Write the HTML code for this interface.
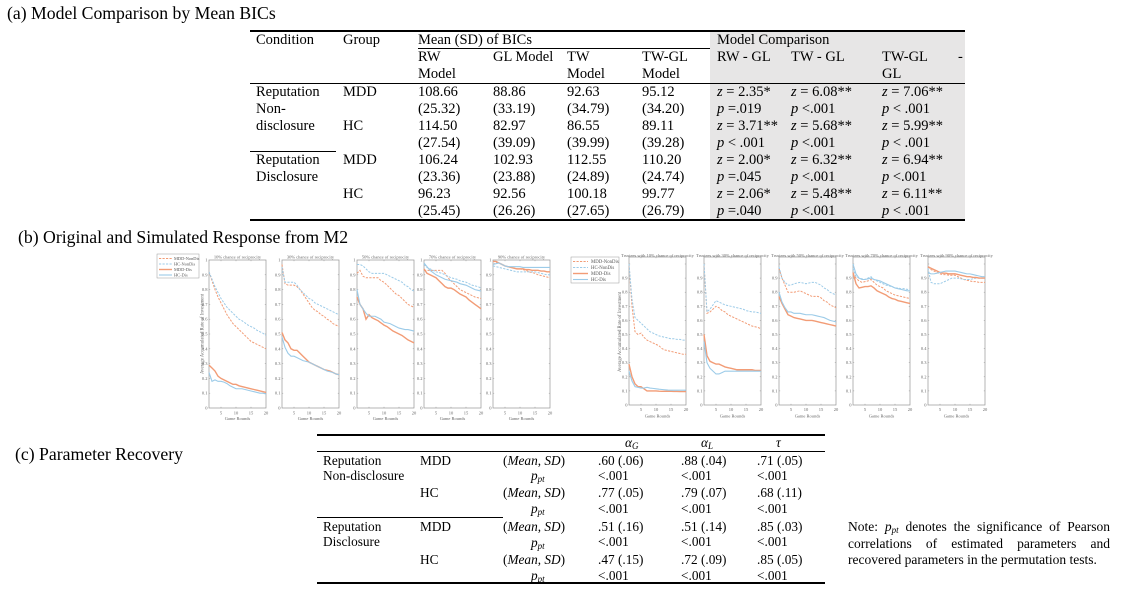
<!DOCTYPE html>
<html><head><meta charset="utf-8">
<style>
html,body{margin:0;padding:0;background:#fff}
body{width:1130px;height:589px;position:relative;overflow:hidden;font-family:"Liberation Serif","Times New Roman",serif;color:#000}
.ttl{position:absolute;white-space:nowrap;font-size:17.7px;line-height:20px}
.ra{position:absolute;left:0;height:17px;line-height:17px;font-size:14.5px}
.ra>span{position:absolute;top:0;white-space:nowrap}
.rc{position:absolute;left:0;height:16px;line-height:16px;font-size:13.3px}
.rc>span{position:absolute;top:0;white-space:nowrap}
.ln{position:absolute;background:#000}
i{font-style:italic}
sub{font-size:9px;vertical-align:-2px;line-height:0;font-style:italic}
.note{position:absolute;left:848px;width:262px;font-size:13.5px;line-height:16.5px}
.note div{text-align:justify;text-align-last:justify;white-space:nowrap}
.note div.last{text-align-last:left}
svg{position:absolute;left:0;top:0}
.od{fill:none;stroke:#f29c76;stroke-width:1;stroke-dasharray:2.2 1.3;vector-effect:non-scaling-stroke}
.bd{fill:none;stroke:#9ccbe8;stroke-width:1;stroke-dasharray:2.2 1.3;vector-effect:non-scaling-stroke}
.os{fill:none;stroke:#f29c76;stroke-width:1.4;vector-effect:non-scaling-stroke}
.bs{fill:none;stroke:#9ccbe8;stroke-width:1.1;vector-effect:non-scaling-stroke}
.tk{font-size:4.5px;fill:#666;font-family:"Liberation Serif",serif}
.lg{font-size:4.4px;fill:#555;font-family:"Liberation Serif",serif}
</style></head>
<body>

<div class="ttl" style="left:7px;top:3px">(a) Model Comparison by Mean BICs</div>
<div class="ttl" style="left:18px;top:227px">(b) Original and Simulated Response from M2</div>
<div class="ttl" style="left:15px;top:444px">(c) Parameter Recovery</div>

<!-- Table (a) -->
<div style="position:absolute;left:710px;top:31px;width:255px;height:189px;background:#e7e6e6"></div>
<div class="ln" style="left:250px;top:30px;width:715px;height:1.5px"></div>
<div class="ln" style="left:418px;top:48px;width:292px;height:1px"></div>
<div class="ln" style="left:250px;top:82.5px;width:715px;height:1px"></div>
<div class="ln" style="left:250px;top:151px;width:86px;height:1px"></div>
<div class="ln" style="left:250px;top:219px;width:715px;height:1.5px"></div>

<div class="ra" style="top:31.5px"><span style="left:256px">Condition</span><span style="left:343px">Group</span><span style="left:418px">Mean (SD) of BICs</span><span style="left:717px">Model Comparison</span></div>
<div class="ra" style="top:48.5px"><span style="left:418px">RW</span><span style="left:493px">GL Model</span><span style="left:567px">TW</span><span style="left:642px">TW-GL</span><span style="left:717px">RW - GL</span><span style="left:791px">TW - GL</span><span style="left:882px">TW-GL</span><span style="left:958px">-</span></div>
<div class="ra" style="top:65.5px"><span style="left:418px">Model</span><span style="left:567px">Model</span><span style="left:642px">Model</span><span style="left:882px">GL</span></div>

<div class="ra" style="top:83.5px"><span style="left:256px">Reputation</span><span style="left:343px">MDD</span><span style="left:418px">108.66</span><span style="left:493px">88.86</span><span style="left:567px">92.63</span><span style="left:642px">95.12</span><span style="left:717px"><i>z</i> = 2.35*</span><span style="left:791px"><i>z</i> = 6.08**</span><span style="left:882px"><i>z</i> = 7.06**</span></div>
<div class="ra" style="top:100.5px"><span style="left:256px">Non-</span><span style="left:418px">(25.32)</span><span style="left:493px">(33.19)</span><span style="left:567px">(34.79)</span><span style="left:642px">(34.20)</span><span style="left:717px"><i>p</i> =.019</span><span style="left:791px"><i>p</i> &lt;.001</span><span style="left:882px"><i>p</i> &lt; .001</span></div>
<div class="ra" style="top:117.5px"><span style="left:256px">disclosure</span><span style="left:343px">HC</span><span style="left:418px">114.50</span><span style="left:493px">82.97</span><span style="left:567px">86.55</span><span style="left:642px">89.11</span><span style="left:717px"><i>z</i> = 3.71**</span><span style="left:791px"><i>z</i> = 5.68**</span><span style="left:882px"><i>z</i> = 5.99**</span></div>
<div class="ra" style="top:134.5px"><span style="left:418px">(27.54)</span><span style="left:493px">(39.09)</span><span style="left:567px">(39.99)</span><span style="left:642px">(39.28)</span><span style="left:717px"><i>p</i> &lt; .001</span><span style="left:791px"><i>p</i> &lt;.001</span><span style="left:882px"><i>p</i> &lt; .001</span></div>
<div class="ra" style="top:151.5px"><span style="left:256px">Reputation</span><span style="left:343px">MDD</span><span style="left:418px">106.24</span><span style="left:493px">102.93</span><span style="left:567px">112.55</span><span style="left:642px">110.20</span><span style="left:717px"><i>z</i> = 2.00*</span><span style="left:791px"><i>z</i> = 6.32**</span><span style="left:882px"><i>z</i> = 6.94**</span></div>
<div class="ra" style="top:168.5px"><span style="left:256px">Disclosure</span><span style="left:418px">(23.36)</span><span style="left:493px">(23.88)</span><span style="left:567px">(24.89)</span><span style="left:642px">(24.74)</span><span style="left:717px"><i>p</i> =.045</span><span style="left:791px"><i>p</i> &lt;.001</span><span style="left:882px"><i>p</i> &lt;.001</span></div>
<div class="ra" style="top:185.5px"><span style="left:343px">HC</span><span style="left:418px">96.23</span><span style="left:493px">92.56</span><span style="left:567px">100.18</span><span style="left:642px">99.77</span><span style="left:717px"><i>z</i> = 2.06*</span><span style="left:791px"><i>z</i> = 5.48**</span><span style="left:882px"><i>z</i> = 6.11**</span></div>
<div class="ra" style="top:202.5px"><span style="left:418px">(25.45)</span><span style="left:493px">(26.26)</span><span style="left:567px">(27.65)</span><span style="left:642px">(26.79)</span><span style="left:717px"><i>p</i> =.040</span><span style="left:791px"><i>p</i> &lt;.001</span><span style="left:882px"><i>p</i> &lt; .001</span></div>

<!-- Table (c) -->
<div class="ln" style="left:317px;top:434px;width:508px;height:1.5px"></div>
<div class="ln" style="left:317px;top:451px;width:508px;height:1px"></div>
<div class="ln" style="left:317px;top:517px;width:186px;height:1px"></div>
<div class="ln" style="left:317px;top:582px;width:508px;height:1.5px"></div>

<div class="rc" style="top:435px"><span style="left:625px"><i>α</i><sub>G</sub></span><span style="left:701px"><i>α</i><sub>L</sub></span><span style="left:776px"><i>τ</i></span></div>
<div class="rc" style="top:453px"><span style="left:323px">Reputation</span><span style="left:420px">MDD</span><span style="left:503px">(<i>Mean</i>, <i>SD</i>)</span><span style="left:598px">.60 (.06)</span><span style="left:681px">.88 (.04)</span><span style="left:757px">.71 (.05)</span></div>
<div class="rc" style="top:468px"><span style="left:323px">Non-disclosure</span><span style="left:598px">&lt;.001</span><span style="left:681px">&lt;.001</span><span style="left:757px">&lt;.001</span></div>
<div class="rc" style="top:468px"><span style="left:531px"><i>p</i><sub>pt</sub></span></div>
<div class="rc" style="top:485px"><span style="left:420px">HC</span><span style="left:503px">(<i>Mean</i>, <i>SD</i>)</span><span style="left:598px">.77 (.05)</span><span style="left:681px">.79 (.07)</span><span style="left:757px">.68 (.11)</span></div>
<div class="rc" style="top:501px"><span style="left:598px">&lt;.001</span><span style="left:681px">&lt;.001</span><span style="left:757px">&lt;.001</span></div>
<div class="rc" style="top:501px"><span style="left:531px"><i>p</i><sub>pt</sub></span></div>
<div class="rc" style="top:519px"><span style="left:323px">Reputation</span><span style="left:420px">MDD</span><span style="left:503px">(<i>Mean</i>, <i>SD</i>)</span><span style="left:598px">.51 (.16)</span><span style="left:681px">.51 (.14)</span><span style="left:757px">.85 (.03)</span></div>
<div class="rc" style="top:534px"><span style="left:323px">Disclosure</span><span style="left:598px">&lt;.001</span><span style="left:681px">&lt;.001</span><span style="left:757px">&lt;.001</span></div>
<div class="rc" style="top:535px"><span style="left:531px"><i>p</i><sub>pt</sub></span></div>
<div class="rc" style="top:552px"><span style="left:420px">HC</span><span style="left:503px">(<i>Mean</i>, <i>SD</i>)</span><span style="left:598px">.47 (.15)</span><span style="left:681px">.72 (.09)</span><span style="left:757px">.85 (.05)</span></div>
<div class="rc" style="top:568px"><span style="left:598px">&lt;.001</span><span style="left:681px">&lt;.001</span><span style="left:757px">&lt;.001</span></div>
<div class="rc" style="top:568px"><span style="left:531px"><i>p</i><sub>pt</sub></span></div>

<div class="note" style="top:519px">
<div>Note: <i>p</i><sub>pt</sub> denotes the significance of Pearson</div>
<div>correlations of estimated parameters and</div>
<div class="last">recovered parameters in the permutation tests.</div>
</div>

<!-- Charts (b) -->
<svg width="1130" height="589" viewBox="0 0 1130 589" xmlns="http://www.w3.org/2000/svg">
<defs>
<g id="axL">
<rect x="0" y="0" width="57" height="148" fill="none" stroke="#959595" stroke-width="0.7"/>
<path d="M0,133.2h1.2M0,118.4h1.2M0,103.6h1.2M0,88.8h1.2M0,74h1.2M0,59.2h1.2M0,44.4h1.2M0,29.6h1.2M0,14.8h1.2M57,133.2h-1.2M57,118.4h-1.2M57,103.6h-1.2M57,88.8h-1.2M57,74h-1.2M57,59.2h-1.2M57,44.4h-1.2M57,29.6h-1.2M57,14.8h-1.2M12,148v-1.2M27,148v-1.2M42,148v-1.2M12,0v1.2M27,0v1.2M42,0v1.2" stroke="#959595" stroke-width="0.5" fill="none"/>
</g>
<g id="axR">
<rect x="0" y="0" width="57" height="148" fill="none" stroke="#959595" stroke-width="0.7"/>
<path d="M0,133.9h1.2M0,119.8h1.2M0,105.7h1.2M0,91.6h1.2M0,77.5h1.2M0,63.4h1.2M0,49.3h1.2M0,35.2h1.2M0,21.1h1.2M0,7h1.2M57,133.9h-1.2M57,119.8h-1.2M57,105.7h-1.2M57,91.6h-1.2M57,77.5h-1.2M57,63.4h-1.2M57,49.3h-1.2M57,35.2h-1.2M57,21.1h-1.2M57,7h-1.2M12,148v-1.2M27,148v-1.2M42,148v-1.2M12,0v1.2M27,0v1.2M42,0v1.2" stroke="#959595" stroke-width="0.5" fill="none"/>
</g>
</defs>

<use href="#axL" x="209" y="260"/>
<use href="#axL" x="282" y="260"/>
<use href="#axL" x="357" y="260"/>
<use href="#axL" x="424" y="260"/>
<use href="#axL" x="493" y="260"/>
<use href="#axR" x="629" y="257"/>
<use href="#axR" x="704" y="257"/>
<use href="#axR" x="779" y="257"/>
<use href="#axR" x="853" y="257"/>
<use href="#axR" x="928" y="257"/>

<!-- L1 -->
<g transform="translate(206,408) scale(3,-148)">
<polyline class="od" points="1,.92 2,.86 3,.80 4,.75 5,.71 6,.67 7,.63 8,.60 9,.57 10,.55 11,.53 12,.51 13,.49 14,.47 15,.45 16,.44 17,.43 18,.42 19,.41 20,.40"/>
<polyline class="bd" points="1,.92 2,.87 3,.82 4,.78 5,.74 6,.71 7,.68 8,.66 9,.64 10,.62 11,.60 12,.59 13,.575 14,.56 15,.55 16,.54 17,.525 18,.515 19,.505 20,.49"/>
<polyline class="os" points="1,.29 2,.27 3,.25 4,.215 5,.20 6,.19 7,.18 8,.17 9,.16 10,.16 11,.15 12,.145 13,.14 14,.135 15,.13 16,.125 17,.12 18,.115 19,.11 20,.105"/>
<polyline class="bs" points="1,.24 2,.18 3,.19 4,.18 5,.18 6,.175 7,.165 8,.15 9,.14 10,.13 11,.13 12,.13 13,.125 14,.12 15,.115 16,.11 17,.105 18,.1 19,.1 20,.095"/>
</g>
<!-- L2 -->
<g transform="translate(279,408) scale(3,-148)">
<polyline class="od" points="1,.97 2,.84 3,.83 4,.83 5,.83 6,.82 7,.80 8,.77 9,.74 10,.71 11,.68 12,.66 13,.65 14,.63 15,.62 16,.60 17,.59 18,.57 19,.56 20,.55"/>
<polyline class="bd" points="1,.95 2,.85 3,.85 4,.85 5,.85 6,.83 7,.80 8,.78 9,.76 10,.74 11,.73 12,.71 13,.70 14,.69 15,.68 16,.67 17,.66 18,.65 19,.64 20,.63"/>
<polyline class="os" points="1,.51 2,.46 3,.44 4,.40 5,.39 6,.39 7,.37 8,.35 9,.33 10,.31 11,.30 12,.29 13,.28 14,.27 15,.26 16,.255 17,.25 18,.24 19,.23 20,.225"/>
<polyline class="bs" points="1,.48 2,.41 3,.37 4,.35 5,.35 6,.34 7,.33 8,.32 9,.315 10,.31 11,.30 12,.29 13,.28 14,.27 15,.26 16,.25 17,.245 18,.24 19,.23 20,.225"/>
</g>
<!-- L3 -->
<g transform="translate(354,408) scale(3,-148)">
<polyline class="od" points="1,.91 2,.93 3,.89 4,.88 5,.88 6,.88 7,.88 8,.88 9,.86 10,.85 11,.83 12,.81 13,.79 14,.77 15,.76 16,.74 17,.72 18,.70 19,.69 20,.68"/>
<polyline class="bd" points="1,.97 2,.97 3,.96 4,.94 5,.92 6,.91 7,.91 8,.91 9,.91 10,.91 11,.90 12,.89 13,.88 14,.87 15,.86 16,.85 17,.83 18,.82 19,.80 20,.79"/>
<polyline class="os" points="1,.75 2,.70 3,.67 4,.60 5,.63 6,.61 7,.60 8,.59 9,.575 10,.56 11,.55 12,.535 13,.52 14,.51 15,.50 16,.49 17,.475 18,.46 19,.45 20,.44"/>
<polyline class="bs" points="1,.80 2,.70 3,.67 4,.64 5,.62 6,.62 7,.62 8,.61 9,.60 10,.58 11,.575 12,.57 13,.56 14,.55 15,.54 16,.535 17,.53 18,.53 19,.525 20,.52"/>
</g>
<!-- L4 -->
<g transform="translate(421,408) scale(3,-148)">
<polyline class="od" points="1,.93 2,.93 3,.93 4,.93 5,.93 6,.93 7,.93 8,.91 9,.88 10,.86 11,.84 12,.82 13,.80 14,.79 15,.78 16,.77 17,.76 18,.75 19,.745 20,.74"/>
<polyline class="bd" points="1,.97 2,.95 3,.94 4,.93 5,.92 6,.915 7,.91 8,.90 9,.89 10,.88 11,.875 12,.87 13,.86 14,.855 15,.85 16,.84 17,.83 18,.825 19,.82 20,.81"/>
<polyline class="os" points="1,.94 2,.91 3,.90 4,.89 5,.88 6,.86 7,.84 8,.82 9,.81 10,.81 11,.80 12,.785 13,.77 14,.76 15,.75 16,.73 17,.715 18,.70 19,.685 20,.67"/>
<polyline class="bs" points="1,.98 2,.955 3,.93 4,.915 5,.90 6,.89 7,.88 8,.87 9,.865 10,.86 11,.855 12,.85 13,.84 14,.835 15,.83 16,.82 17,.81 18,.80 19,.795 20,.79"/>
</g>
<!-- L5 -->
<g transform="translate(490,408) scale(3,-148)">
<polyline class="od" points="1,.97 2,.98 3,.98 4,.97 5,.96 6,.955 7,.95 8,.945 9,.94 10,.94 11,.935 12,.93 13,.92 14,.915 15,.91 16,.90 17,.895 18,.89 19,.885 20,.88"/>
<polyline class="bd" points="1,.96 2,.955 3,.95 4,.945 5,.94 6,.935 7,.93 8,.925 9,.92 10,.92 11,.92 12,.92 13,.92 14,.92 15,.92 16,.915 17,.91 18,.905 19,.90 20,.90"/>
<polyline class="os" points="1,.99 2,.99 3,.98 4,.97 5,.96 6,.955 7,.95 8,.945 9,.94 10,.94 11,.94 12,.935 13,.935 14,.93 15,.93 16,.93 17,.925 18,.925 19,.92 20,.92"/>
<polyline class="bs" points="1,.97 2,.975 3,.98 4,.97 5,.96 6,.955 7,.955 8,.955 9,.955 10,.955 11,.95 12,.95 13,.95 14,.95 15,.95 16,.95 17,.95 18,.95 19,.95 20,.95"/>
</g>

<!-- R1 -->
<g transform="translate(626,405) scale(3,-141)">
<polyline class="od" points="1,1.0 2,.70 3,.52 4,.50 5,.51 6,.48 7,.46 8,.45 9,.44 10,.43 11,.42 12,.40 13,.39 14,.385 15,.38 16,.375 17,.37 18,.365 19,.36 20,.36"/>
<polyline class="bd" points="1,1.0 2,.75 3,.62 4,.60 5,.58 6,.56 7,.54 8,.52 9,.51 10,.50 11,.49 12,.485 13,.48 14,.475 15,.47 16,.47 17,.465 18,.465 19,.46 20,.46"/>
<polyline class="os" points="1,.29 2,.20 3,.15 4,.13 5,.13 6,.115 7,.10 8,.10 9,.10 10,.10 11,.098 12,.097 13,.097 14,.097 15,.097 16,.096 17,.096 18,.095 19,.095 20,.095"/>
<polyline class="bs" points="1,.24 2,.17 3,.13 4,.125 5,.12 6,.12 7,.125 8,.12 9,.118 10,.115 11,.112 12,.11 13,.108 14,.106 15,.105 16,.105 17,.105 18,.105 19,.105 20,.105"/>
</g>
<!-- R2 -->
<g transform="translate(701,405) scale(3,-141)">
<polyline class="od" points="1,1.0 2,.65 3,.66 4,.68 5,.70 6,.69 7,.67 8,.66 9,.64 10,.63 11,.62 12,.61 13,.60 14,.59 15,.58 16,.57 17,.56 18,.555 19,.55 20,.54"/>
<polyline class="bd" points="1,1.0 2,.66 3,.68 4,.71 5,.74 6,.73 7,.72 8,.71 9,.705 10,.70 11,.695 12,.69 13,.685 14,.68 15,.67 16,.665 17,.66 18,.66 19,.655 20,.65"/>
<polyline class="os" points="1,.50 2,.35 3,.31 4,.30 5,.29 6,.29 7,.28 8,.27 9,.265 10,.26 11,.255 12,.25 13,.25 14,.25 15,.25 16,.25 17,.25 18,.245 19,.245 20,.245"/>
<polyline class="bs" points="1,.45 2,.30 3,.26 4,.24 5,.22 6,.22 7,.23 8,.24 9,.24 10,.24 11,.24 12,.24 13,.24 14,.24 15,.24 16,.24 17,.24 18,.24 19,.24 20,.24"/>
</g>
<!-- R3 -->
<g transform="translate(776,405) scale(3,-141)">
<polyline class="od" points="1,.97 2,.90 3,.85 4,.80 5,.80 6,.80 7,.805 8,.81 9,.80 10,.79 11,.78 12,.77 13,.77 14,.77 15,.76 16,.74 17,.73 18,.71 19,.70 20,.69"/>
<polyline class="bd" points="1,.98 2,.90 3,.87 4,.85 5,.85 6,.86 7,.865 8,.87 9,.865 10,.86 11,.865 12,.87 13,.87 14,.86 15,.85 16,.83 17,.82 18,.80 19,.79 20,.78"/>
<polyline class="os" points="1,.77 2,.72 3,.68 4,.64 5,.63 6,.62 7,.615 8,.61 9,.605 10,.60 11,.60 12,.60 13,.595 14,.59 15,.585 16,.58 17,.575 18,.57 19,.565 20,.56"/>
<polyline class="bs" points="1,.80 2,.73 3,.69 4,.66 5,.66 6,.65 7,.65 8,.65 9,.645 10,.64 11,.64 12,.64 13,.635 14,.63 15,.625 16,.62 17,.61 18,.60 19,.595 20,.59"/>
</g>
<!-- R4 -->
<g transform="translate(850,405) scale(3,-141)">
<polyline class="od" points="1,.93 2,.90 3,.88 4,.87 5,.875 6,.88 7,.89 8,.87 9,.85 10,.84 11,.83 12,.81 13,.80 14,.79 15,.78 16,.775 17,.77 18,.765 19,.76 20,.755"/>
<polyline class="bd" points="1,.97 2,.91 3,.90 4,.895 5,.89 6,.90 7,.91 8,.89 9,.88 10,.87 11,.86 12,.85 13,.845 14,.84 15,.83 16,.83 17,.825 18,.825 19,.82 20,.82"/>
<polyline class="os" points="1,.94 2,.86 3,.83 4,.835 5,.84 6,.84 7,.845 8,.83 9,.81 10,.80 11,.79 12,.78 13,.765 14,.755 15,.75 16,.74 17,.735 18,.73 19,.725 20,.72"/>
<polyline class="bs" points="1,1.0 2,.93 3,.90 4,.89 5,.89 6,.895 7,.90 8,.89 9,.885 10,.88 11,.87 12,.86 13,.85 14,.84 15,.83 16,.825 17,.82 18,.815 19,.81 20,.81"/>
</g>
<!-- R5 -->
<g transform="translate(925,405) scale(3,-141)">
<polyline class="od" points="1,.98 2,.96 3,.95 4,.94 5,.93 6,.925 7,.925 8,.92 9,.92 10,.92 11,.91 12,.90 13,.89 14,.885 15,.88 16,.875 17,.875 18,.87 19,.87 20,.87"/>
<polyline class="bd" points="1,.97 2,.87 3,.86 4,.86 5,.86 6,.87 7,.88 8,.89 9,.90 10,.90 11,.90 12,.895 13,.89 14,.89 15,.89 16,.895 17,.90 18,.90 19,.90 20,.90"/>
<polyline class="os" points="1,.98 2,.97 3,.96 4,.95 5,.94 6,.935 7,.935 8,.93 9,.93 10,.93 11,.925 12,.92 13,.915 14,.91 15,.91 16,.905 17,.905 18,.90 19,.90 20,.90"/>
<polyline class="bs" points="1,.94 2,.93 3,.93 4,.935 5,.94 6,.945 7,.95 8,.95 9,.95 10,.95 11,.945 12,.94 13,.935 14,.93 15,.93 16,.925 17,.92 18,.915 19,.91 20,.91"/>
</g>

<text class="tk" text-anchor="middle" x="237.5" y="258.5">10% chance of reciprocity</text>
<text class="tk" text-anchor="middle" x="310.5" y="258.5">30% chance of reciprocity</text>
<text class="tk" text-anchor="middle" x="385.5" y="258.5">50% chance of reciprocity</text>
<text class="tk" text-anchor="middle" x="452.5" y="258.5">70% chance of reciprocity</text>
<text class="tk" text-anchor="middle" x="521.5" y="258.5">90% chance of reciprocity</text>
<text class="tk" text-anchor="middle" x="657.5" y="257">Trustees with 10% chance of reciprocity</text>
<text class="tk" text-anchor="middle" x="732.5" y="257">Trustees with 30% chance of reciprocity</text>
<text class="tk" text-anchor="middle" x="807.5" y="257">Trustees with 50% chance of reciprocity</text>
<text class="tk" text-anchor="middle" x="881.5" y="257">Trustees with 70% chance of reciprocity</text>
<text class="tk" text-anchor="middle" x="956.5" y="257">Trustees with 90% chance of reciprocity</text>

<text class="tk" text-anchor="end"><tspan x="207.5" y="409.5">0</tspan><tspan x="207.5" y="394.7">0.1</tspan><tspan x="207.5" y="379.9">0.2</tspan><tspan x="207.5" y="365.1">0.3</tspan><tspan x="207.5" y="350.3">0.4</tspan><tspan x="207.5" y="335.5">0.5</tspan><tspan x="207.5" y="320.7">0.6</tspan><tspan x="207.5" y="305.9">0.7</tspan><tspan x="207.5" y="291.1">0.8</tspan><tspan x="207.5" y="276.3">0.9</tspan><tspan x="207.5" y="261.5">1</tspan></text>
<text class="tk" text-anchor="end"><tspan x="280.5" y="409.5">0</tspan><tspan x="280.5" y="394.7">0.1</tspan><tspan x="280.5" y="379.9">0.2</tspan><tspan x="280.5" y="365.1">0.3</tspan><tspan x="280.5" y="350.3">0.4</tspan><tspan x="280.5" y="335.5">0.5</tspan><tspan x="280.5" y="320.7">0.6</tspan><tspan x="280.5" y="305.9">0.7</tspan><tspan x="280.5" y="291.1">0.8</tspan><tspan x="280.5" y="276.3">0.9</tspan><tspan x="280.5" y="261.5">1</tspan></text>
<text class="tk" text-anchor="end"><tspan x="355.5" y="409.5">0</tspan><tspan x="355.5" y="394.7">0.1</tspan><tspan x="355.5" y="379.9">0.2</tspan><tspan x="355.5" y="365.1">0.3</tspan><tspan x="355.5" y="350.3">0.4</tspan><tspan x="355.5" y="335.5">0.5</tspan><tspan x="355.5" y="320.7">0.6</tspan><tspan x="355.5" y="305.9">0.7</tspan><tspan x="355.5" y="291.1">0.8</tspan><tspan x="355.5" y="276.3">0.9</tspan><tspan x="355.5" y="261.5">1</tspan></text>
<text class="tk" text-anchor="end"><tspan x="422.5" y="409.5">0</tspan><tspan x="422.5" y="394.7">0.1</tspan><tspan x="422.5" y="379.9">0.2</tspan><tspan x="422.5" y="365.1">0.3</tspan><tspan x="422.5" y="350.3">0.4</tspan><tspan x="422.5" y="335.5">0.5</tspan><tspan x="422.5" y="320.7">0.6</tspan><tspan x="422.5" y="305.9">0.7</tspan><tspan x="422.5" y="291.1">0.8</tspan><tspan x="422.5" y="276.3">0.9</tspan><tspan x="422.5" y="261.5">1</tspan></text>
<text class="tk" text-anchor="end"><tspan x="491.5" y="409.5">0</tspan><tspan x="491.5" y="394.7">0.1</tspan><tspan x="491.5" y="379.9">0.2</tspan><tspan x="491.5" y="365.1">0.3</tspan><tspan x="491.5" y="350.3">0.4</tspan><tspan x="491.5" y="335.5">0.5</tspan><tspan x="491.5" y="320.7">0.6</tspan><tspan x="491.5" y="305.9">0.7</tspan><tspan x="491.5" y="291.1">0.8</tspan><tspan x="491.5" y="276.3">0.9</tspan><tspan x="491.5" y="261.5">1</tspan></text>

<text class="tk" text-anchor="end"><tspan x="627.5" y="406.5">0</tspan><tspan x="627.5" y="392.4">0.1</tspan><tspan x="627.5" y="378.3">0.2</tspan><tspan x="627.5" y="364.2">0.3</tspan><tspan x="627.5" y="350.1">0.4</tspan><tspan x="627.5" y="336">0.5</tspan><tspan x="627.5" y="321.9">0.6</tspan><tspan x="627.5" y="307.8">0.7</tspan><tspan x="627.5" y="293.7">0.8</tspan><tspan x="627.5" y="279.6">0.9</tspan></text>
<text class="tk" text-anchor="end"><tspan x="702.5" y="406.5">0</tspan><tspan x="702.5" y="392.4">0.1</tspan><tspan x="702.5" y="378.3">0.2</tspan><tspan x="702.5" y="364.2">0.3</tspan><tspan x="702.5" y="350.1">0.4</tspan><tspan x="702.5" y="336">0.5</tspan><tspan x="702.5" y="321.9">0.6</tspan><tspan x="702.5" y="307.8">0.7</tspan><tspan x="702.5" y="293.7">0.8</tspan><tspan x="702.5" y="279.6">0.9</tspan></text>
<text class="tk" text-anchor="end"><tspan x="777.5" y="406.5">0</tspan><tspan x="777.5" y="392.4">0.1</tspan><tspan x="777.5" y="378.3">0.2</tspan><tspan x="777.5" y="364.2">0.3</tspan><tspan x="777.5" y="350.1">0.4</tspan><tspan x="777.5" y="336">0.5</tspan><tspan x="777.5" y="321.9">0.6</tspan><tspan x="777.5" y="307.8">0.7</tspan><tspan x="777.5" y="293.7">0.8</tspan><tspan x="777.5" y="279.6">0.9</tspan></text>
<text class="tk" text-anchor="end"><tspan x="851.5" y="406.5">0</tspan><tspan x="851.5" y="392.4">0.1</tspan><tspan x="851.5" y="378.3">0.2</tspan><tspan x="851.5" y="364.2">0.3</tspan><tspan x="851.5" y="350.1">0.4</tspan><tspan x="851.5" y="336">0.5</tspan><tspan x="851.5" y="321.9">0.6</tspan><tspan x="851.5" y="307.8">0.7</tspan><tspan x="851.5" y="293.7">0.8</tspan><tspan x="851.5" y="279.6">0.9</tspan></text>
<text class="tk" text-anchor="end"><tspan x="926.5" y="406.5">0</tspan><tspan x="926.5" y="392.4">0.1</tspan><tspan x="926.5" y="378.3">0.2</tspan><tspan x="926.5" y="364.2">0.3</tspan><tspan x="926.5" y="350.1">0.4</tspan><tspan x="926.5" y="336">0.5</tspan><tspan x="926.5" y="321.9">0.6</tspan><tspan x="926.5" y="307.8">0.7</tspan><tspan x="926.5" y="293.7">0.8</tspan><tspan x="926.5" y="279.6">0.9</tspan></text>

<text class="tk" text-anchor="middle"><tspan x="221" y="414.5">5</tspan><tspan x="236" y="414.5">10</tspan><tspan x="251" y="414.5">15</tspan><tspan x="266" y="414.5">20</tspan><tspan x="294" y="414.5">5</tspan><tspan x="309" y="414.5">10</tspan><tspan x="324" y="414.5">15</tspan><tspan x="339" y="414.5">20</tspan><tspan x="369" y="414.5">5</tspan><tspan x="384" y="414.5">10</tspan><tspan x="399" y="414.5">15</tspan><tspan x="414" y="414.5">20</tspan><tspan x="436" y="414.5">5</tspan><tspan x="451" y="414.5">10</tspan><tspan x="466" y="414.5">15</tspan><tspan x="481" y="414.5">20</tspan><tspan x="505" y="414.5">5</tspan><tspan x="520" y="414.5">10</tspan><tspan x="535" y="414.5">15</tspan><tspan x="550" y="414.5">20</tspan></text>
<text class="tk" text-anchor="middle"><tspan x="237.5" y="419.8">Game Rounds</tspan><tspan x="310.5" y="419.8">Game Rounds</tspan><tspan x="385.5" y="419.8">Game Rounds</tspan><tspan x="452.5" y="419.8">Game Rounds</tspan><tspan x="521.5" y="419.8">Game Rounds</tspan></text>
<text class="tk" text-anchor="middle"><tspan x="641" y="411">5</tspan><tspan x="656" y="411">10</tspan><tspan x="671" y="411">15</tspan><tspan x="686" y="411">20</tspan><tspan x="716" y="411">5</tspan><tspan x="731" y="411">10</tspan><tspan x="746" y="411">15</tspan><tspan x="761" y="411">20</tspan><tspan x="791" y="411">5</tspan><tspan x="806" y="411">10</tspan><tspan x="821" y="411">15</tspan><tspan x="836" y="411">20</tspan><tspan x="865" y="411">5</tspan><tspan x="880" y="411">10</tspan><tspan x="895" y="411">15</tspan><tspan x="910" y="411">20</tspan><tspan x="940" y="411">5</tspan><tspan x="955" y="411">10</tspan><tspan x="970" y="411">15</tspan><tspan x="985" y="411">20</tspan></text>
<text class="tk" text-anchor="middle"><tspan x="657.5" y="417.5">Game Rounds</tspan><tspan x="732.5" y="417.5">Game Rounds</tspan><tspan x="807.5" y="417.5">Game Rounds</tspan><tspan x="881.5" y="417.5">Game Rounds</tspan><tspan x="956.5" y="417.5">Game Rounds</tspan></text>

<text class="tk" style="font-size:4.8px" text-anchor="middle" transform="translate(203.5,334) rotate(-90)">Average Accumulated Rate of Investment</text>
<text class="tk" style="font-size:4.8px" text-anchor="middle" transform="translate(621,332) rotate(-90)">Average Accumulated Rate of Investment</text>

<rect x="157" y="254" width="42" height="24" fill="#fff" stroke="#9a9a9a" stroke-width="0.5"/>
<line x1="159" y1="258.5" x2="172" y2="258.5" stroke="#f29c76" stroke-width="1" stroke-dasharray="2.2 1.3"/>
<line x1="159" y1="264" x2="172" y2="264" stroke="#9ccbe8" stroke-width="1" stroke-dasharray="2.2 1.3"/>
<line x1="159" y1="269.5" x2="172" y2="269.5" stroke="#f29c76" stroke-width="1.4"/>
<line x1="159" y1="275" x2="172" y2="275" stroke="#9ccbe8" stroke-width="1.1"/>
<text class="lg"><tspan x="174" y="260">MDD-NonDis</tspan><tspan x="174" y="265.5">HC-NonDis</tspan><tspan x="174" y="271">MDD-Dis</tspan><tspan x="174" y="276.5">HC-Dis</tspan></text>

<rect x="571" y="257" width="48" height="26" fill="#fff" stroke="#9a9a9a" stroke-width="0.5"/>
<line x1="573" y1="261.5" x2="588" y2="261.5" stroke="#f29c76" stroke-width="1" stroke-dasharray="2.2 1.3"/>
<line x1="573" y1="267.5" x2="588" y2="267.5" stroke="#9ccbe8" stroke-width="1" stroke-dasharray="2.2 1.3"/>
<line x1="573" y1="273.5" x2="588" y2="273.5" stroke="#f29c76" stroke-width="1.4"/>
<line x1="573" y1="279.5" x2="588" y2="279.5" stroke="#9ccbe8" stroke-width="1.1"/>
<text class="lg" style="font-size:4.8px"><tspan x="591" y="263.2">MDD-NonDis</tspan><tspan x="591" y="269.2">HC-NonDis</tspan><tspan x="591" y="275.2">MDD-Dis</tspan><tspan x="591" y="281.2">HC-Dis</tspan></text>
</svg>

</body></html>
